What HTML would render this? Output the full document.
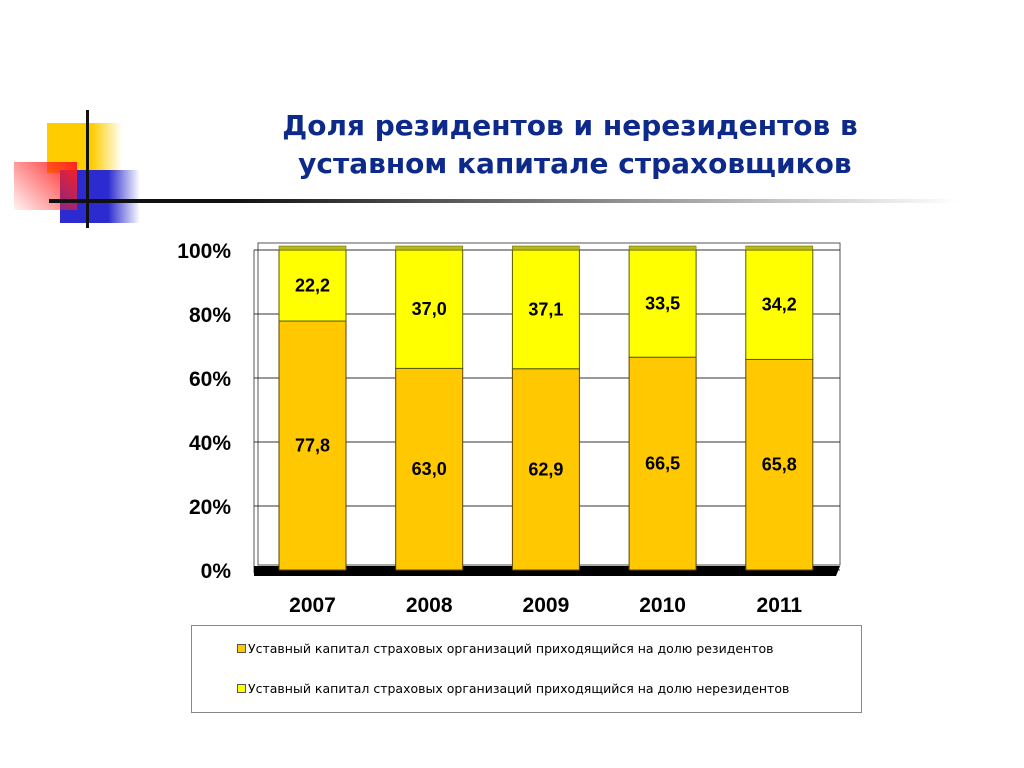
<!DOCTYPE html>
<html><head><meta charset="utf-8"><style>
body{margin:0;width:1024px;height:768px;background:#fff;position:relative;overflow:hidden;font-family:"Liberation Sans",Arial,sans-serif}
.t{position:absolute;left:170px;width:800px;text-align:center;color:#0d2a8a;font-weight:bold;font-size:28px;line-height:38px;top:107px;font-family:"DejaVu Sans",sans-serif}
</style></head><body>
<div>
<div style="position:absolute;left:47px;top:123px;width:75px;height:50px;background:linear-gradient(90deg,#ffcc00 60%,rgba(255,204,0,0))"></div>
<div style="position:absolute;left:60px;top:170px;width:80px;height:53px;background:linear-gradient(90deg,#2b2bd0 60%,rgba(43,43,208,0))"></div>
<div style="position:absolute;left:14px;top:162px;width:63px;height:48px;background:linear-gradient(45deg,rgba(255,40,40,0.05),#ff2020)"></div>
<div style="position:absolute;left:86px;top:110px;width:3px;height:118px;background:#111"></div>
<div style="position:absolute;left:49px;top:199px;width:910px;height:4px;background:linear-gradient(90deg,#111 20%,rgba(20,20,20,0))"></div>
</div>
<div class="t">Доля резидентов и нерезидентов в<br>&nbsp;уставном капитале страховщиков</div>
<svg id="c" width="1024" height="768" style="position:absolute;left:0;top:0"></svg>
<div style="position:absolute;left:191px;top:625px;width:669px;height:86px;border:1px solid #888;font-size:12.5px;color:#000;font-family:'DejaVu Sans',sans-serif">
<div style="position:absolute;left:45px;top:15px"><span style="display:inline-block;width:7px;height:7px;background:#ffc800;border:1px solid #555;margin-right:2px"></span>Уставный капитал страховых организаций приходящийся на долю резидентов</div>
<div style="position:absolute;left:45px;top:55px"><span style="display:inline-block;width:7px;height:7px;background:#ffff00;border:1px solid #555;margin-right:2px"></span>Уставный капитал страховых организаций приходящийся на долю нерезидентов</div>
</div>
<script>
const years=["2007","2008","2009","2010","2011"];
const residents=[77.8,63.0,62.9,66.5,65.8];
const nonresidents=[22.2,37.0,37.1,33.5,34.2];
const ticks=[0,20,40,60,80,100];
const svg=document.getElementById('c');const NS='http://www.w3.org/2000/svg';
function el(t,a,p){const e=document.createElementNS(NS,t);for(const k in a)e.setAttribute(k,a[k]);(p||svg).appendChild(e);return e;}
const y0=570,y1=250,xl=258,xr=840;
const y=v=>y0-(v/100)*(y0-y1);
const x=i=>279+i*116.7;
const bw=67;
let bg=el('polygon',{points:`${xl},${y1-7} ${xr},${y1-7} ${xr},${y0-5} ${xl},${y0-5}`,fill:'#fff',stroke:'#555'});

el('line',{x1:xl-4,y1:y1,x2:xl-4,y2:y0+3,stroke:'#555'});
ticks.forEach(t=>{
 const g=el('line',{x1:xl-4,y1:y(t),x2:xr,y2:y(t),stroke:'#333','stroke-width':1});
 
 const l=el('text',{x:231,y:y(t)+8,'text-anchor':'end','font-size':21,'font-weight':'bold',fill:'#000'});l.textContent=t+'%';
 
});
const fl=el('polygon',{points:`${xl-4},${y0-4} ${xr},${y0-4} ${xr-4},${y0+6} ${xl-4},${y0+6}`,fill:'#000'});

years.forEach((yr,i)=>{
 const xi=x(i);
 const r=el('rect',{x:xi,y:y(residents[i]),width:bw,height:y0-y(residents[i]),fill:'#ffc800',stroke:'#5a4500'});
 
 const top=residents[i]+nonresidents[i];
 const n=el('rect',{x:xi,y:y(top),width:bw,height:y(residents[i])-y(top),fill:'#ffff00',stroke:'#5a5a00'});
 
 el('rect',{x:xi,y:y(top)-4,width:bw,height:4,fill:'#b8b820',stroke:'#5a5a00','stroke-width':0.5});
 const a=el('text',{x:xi+bw/2,y:(y(residents[i])+y0)/2+6,'text-anchor':'middle','font-size':18,'font-weight':'bold'});a.textContent=residents[i].toFixed(1).replace('.',',');
 
 const b=el('text',{x:xi+bw/2,y:(y(top)+y(residents[i]))/2+6,'text-anchor':'middle','font-size':18,'font-weight':'bold'});b.textContent=nonresidents[i].toFixed(1).replace('.',',');
 
 const c=el('text',{x:xi+bw/2,y:612,'text-anchor':'middle','font-size':21,'font-weight':'bold'});c.textContent=yr;
 
});
</script>
</body></html>
